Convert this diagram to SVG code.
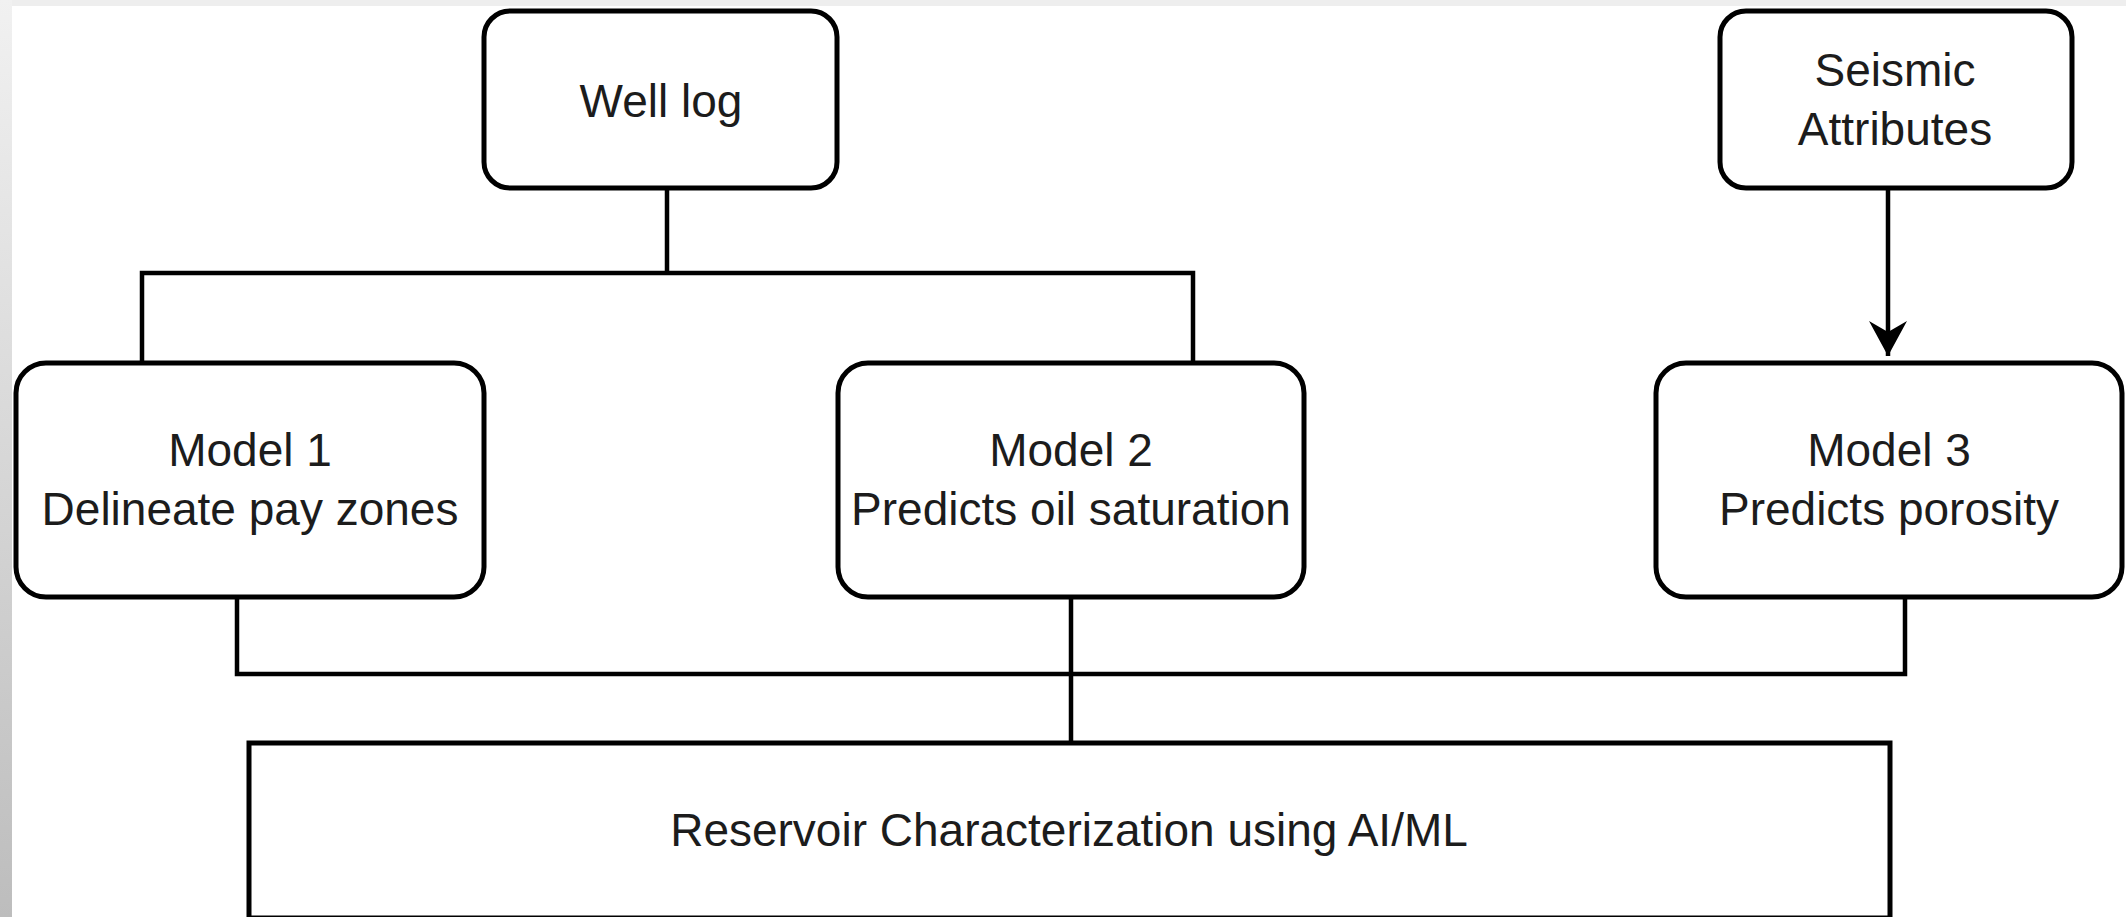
<svg xmlns="http://www.w3.org/2000/svg" width="2126" height="917" viewBox="0 0 2126 917">
  <defs>
    <linearGradient id="edgeGrad" x1="0" y1="0" x2="0" y2="1">
      <stop offset="0" stop-color="#f1f1f1"/>
      <stop offset="1" stop-color="#bdbdbd"/>
    </linearGradient>
    <marker id="arrow" markerUnits="userSpaceOnUse" markerWidth="38" markerHeight="40" refX="35" refY="19" orient="auto">
      <path d="M0,0 L35,19 L0,38 L11,19 Z" fill="#000"/>
    </marker>
    <style>
      .box { fill: #ffffff; stroke: #000000; stroke-width: 5; }
      .conn { fill: none; stroke: #000000; stroke-width: 4.5; stroke-linejoin: miter; }
      .lbl { font-family: "Liberation Sans", Arial, sans-serif; font-size: 46px; fill: #1c1c1c; text-anchor: middle; }
    </style>
  </defs>

  <rect x="0" y="0" width="2126" height="917" fill="#ffffff"/>
  <rect x="0" y="0" width="2126" height="6" fill="#eeeeee"/>
  <rect x="0" y="0" width="12" height="917" fill="url(#edgeGrad)"/>

  <g id="connectors">
    <path class="conn" d="M667,188 L667,273 M142,363 L142,273 L1193,273 L1193,363"/>
    <path class="conn" d="M237,597 L237,674 L1905,674 L1905,597 M1071,597 L1071,743"/>
    <path class="conn" d="M1888,188 L1888,356" marker-end="url(#arrow)"/>
  </g>

  <g id="well-log">
    <rect class="box" x="484" y="11" width="353" height="177" rx="26" ry="26"/>
    <text class="lbl" x="661" y="117">Well log</text>
  </g>

  <g id="seismic-attributes">
    <rect class="box" x="1720" y="11" width="352" height="177" rx="26" ry="26"/>
    <text class="lbl" x="1895" y="86">Seismic</text>
    <text class="lbl" x="1895" y="145">Attributes</text>
  </g>

  <g id="model-1">
    <rect class="box" x="16" y="363" width="468" height="234" rx="30" ry="30"/>
    <text class="lbl" x="250" y="466">Model 1</text>
    <text class="lbl" x="250" y="525">Delineate pay zones</text>
  </g>

  <g id="model-2">
    <rect class="box" x="838" y="363" width="466" height="234" rx="30" ry="30"/>
    <text class="lbl" x="1071" y="466">Model 2</text>
    <text class="lbl" x="1071" y="525">Predicts oil saturation</text>
  </g>

  <g id="model-3">
    <rect class="box" x="1656" y="363" width="466" height="234" rx="30" ry="30"/>
    <text class="lbl" x="1889" y="466">Model 3</text>
    <text class="lbl" x="1889" y="525">Predicts porosity</text>
  </g>

  <g id="reservoir-characterization">
    <rect class="box" x="249" y="743" width="1641" height="175"/>
    <text class="lbl" x="1069" y="846">Reservoir Characterization using AI/ML</text>
  </g>
</svg>
